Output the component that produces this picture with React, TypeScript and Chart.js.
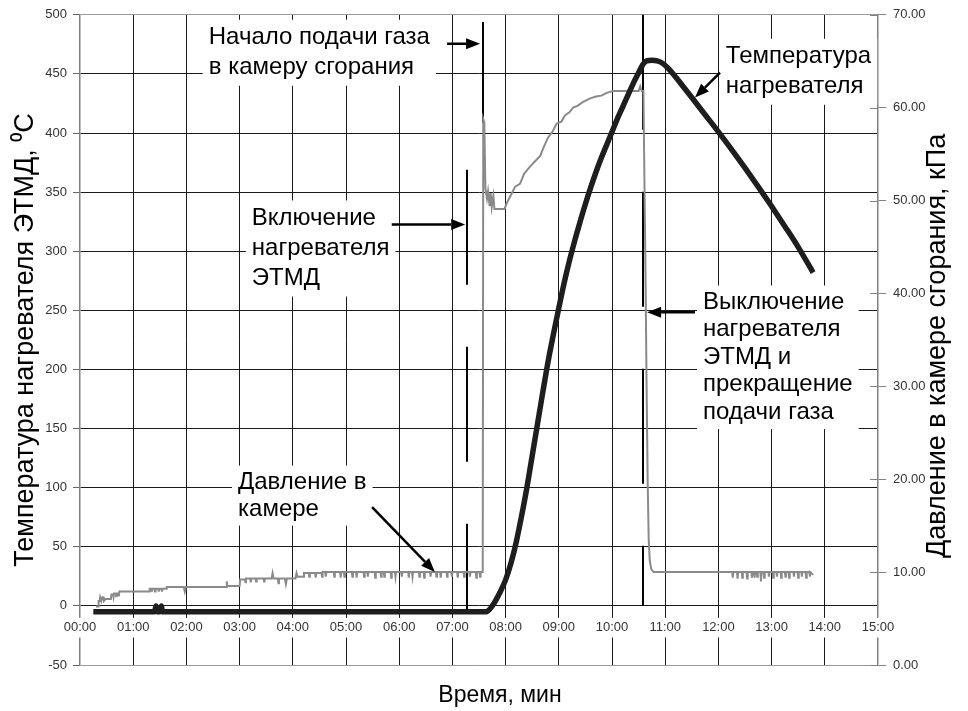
import React, { useEffect, useRef } from 'react';
import { Chart, registerables } from 'chart.js';

Chart.register(...registerables);

const FONT = "'Liberation Sans', Arial, Helvetica, sans-serif";

// ---- tick labels / titles ----
const xTickLabels = ['00:00', '01:00', '02:00', '03:00', '04:00', '05:00', '06:00', '07:00', '08:00', '09:00', '10:00', '11:00', '12:00', '13:00', '14:00', '15:00'];
const leftAxisTitle = 'Температура нагревателя ЭТМД, ⁰C';
const rightAxisTitle = 'Давление в камере сгорания, кПа';
const xAxisTitle = 'Время, мин';

// ---- temperature of the heater: [time, min; °C] (left axis) ----
const temperatureReadings: [number, number][] = [
  [0.25, -5], [1.40, -5], [1.43, 0], [1.45, -5], [1.50, -5], [1.53, 0], [1.55, -5], [7.63, -5],
  [7.75, 0], [7.9, 12], [8.0, 22], [8.1, 36], [8.2, 54], [8.3, 76], [8.4, 100], [8.5, 127], [8.6, 154],
  [8.7, 181], [8.8, 207], [8.9, 230], [9.0, 252], [9.1, 273], [9.2, 292], [9.3, 309], [9.4, 325],
  [9.5, 340], [9.6, 354], [9.7, 367], [9.8, 379], [9.9, 390], [10.0, 401], [10.1, 412], [10.2, 422],
  [10.3, 432], [10.4, 442], [10.5, 451], [10.58, 458], [10.65, 461], [10.75, 461.5], [10.85, 461],
  [10.95, 459], [11.05, 455], [11.15, 450], [11.3, 441.5], [11.5, 430], [11.75, 415.5], [12.0, 401],
  [12.25, 386], [12.5, 370.5], [12.75, 354.5], [13.0, 338], [13.25, 321], [13.5, 303.5], [13.78, 282],
];

// ---- pressure in the combustion chamber: [time, min; kPa] (right axis) ----
const pressureReadings: [number, number][] = [
  [0.30, 6.3], [0.34, 6.3], [0.35, 6.9], [0.37, 6.9], [0.38, 7.3], [0.40, 6.9], [0.42, 7.3], [0.44, 7.3], [0.45, 6.9], [0.48, 7.1],
  [0.58, 7.1], [0.59, 7.6], [0.62, 7.6], [0.63, 7.3], [0.64, 7.7], [0.67, 7.7], [0.68, 7.4], [0.69, 7.7], [0.72, 7.7], [0.73, 7.4], [0.74, 7.9],
  [1.30, 7.9], [1.31, 8.2], [1.34, 8.2], [1.35, 7.9], [1.36, 8.2], [1.40, 8.2], [1.41, 7.9], [1.42, 8.2], [1.47, 8.2], [1.48, 7.9],
  [1.49, 8.2], [1.53, 8.2], [1.54, 7.9], [1.55, 8.2], [1.62, 8.2], [1.63, 8.4], [1.95, 8.4], [1.97, 7.9], [1.99, 8.4],
  [2.75, 8.4], [2.76, 9.0], [2.77, 8.5], [3.00, 8.5], [3.01, 9.2], [3.10, 9.2], [3.11, 8.9], [3.12, 9.3], [3.20, 9.3], [3.21, 8.9],
  [3.22, 9.3], [3.30, 9.3], [3.31, 9.0], [3.32, 9.3], [3.45, 9.3], [3.46, 9.0], [3.47, 9.3], [3.60, 9.3], [3.62, 9.9], [3.64, 9.3],
  [3.72, 9.3], [3.73, 8.8], [3.74, 9.3], [3.85, 9.3], [3.87, 8.7], [3.89, 9.3], [4.05, 9.3], [4.07, 9.9], [4.09, 9.5], [4.20, 9.5], [4.21, 9.9],
  [4.30, 9.9], [4.31, 9.5], [4.32, 9.9], [4.42, 9.9], [4.43, 9.4], [4.44, 9.9], [4.54, 9.9], [4.55, 9.5], [4.56, 10.0], [4.61, 10.0],
  [4.62, 9.5], [4.63, 10.0], [4.77, 10.0], [4.78, 9.5], [4.79, 10.0], [4.89, 10.0], [4.90, 9.4], [4.91, 10.0], [4.96, 10.0], [4.97, 9.5],
  [4.98, 10.0], [5.11, 10.0], [5.12, 9.5], [5.13, 10.0], [5.19, 10.0], [5.20, 9.4], [5.21, 10.0], [5.33, 10.0], [5.34, 9.5], [5.35, 10.0],
  [5.40, 10.0], [5.41, 9.5], [5.42, 10.0], [5.54, 10.0], [5.55, 9.4], [5.56, 10.0], [5.65, 10.0], [5.66, 9.5], [5.67, 10.0], [5.71, 10.0],
  [5.72, 9.5], [5.73, 10.0], [5.84, 10.0], [5.85, 9.4], [5.86, 10.0], [5.92, 10.0], [5.93, 9.5], [5.94, 10.0], [6.04, 10.0], [6.05, 9.5],
  [6.06, 10.0], [6.17, 10.0], [6.18, 9.4], [6.19, 10.0], [6.24, 10.0], [6.25, 9.5], [6.26, 10.0], [6.37, 10.0], [6.38, 9.5], [6.39, 10.0],
  [6.46, 10.0], [6.47, 9.4], [6.48, 10.0], [6.58, 10.0], [6.59, 9.5], [6.60, 10.0], [6.69, 10.0], [6.70, 9.5], [6.71, 10.0], [6.77, 10.0],
  [6.78, 9.4], [6.79, 10.0], [6.89, 10.0], [6.90, 9.5], [6.91, 10.0], [6.98, 10.0], [6.99, 9.5], [7.00, 10.0], [7.09, 10.0], [7.10, 9.4],
  [7.11, 10.0], [7.21, 10.0], [7.22, 9.5], [7.23, 10.0], [7.32, 10.0], [7.33, 9.5], [7.34, 10.0], [7.44, 10.0], [7.45, 9.4], [7.46, 10.0],
  [7.51, 10.0], [7.52, 9.5], [7.53, 10.0], [7.57, 10.0],
  [7.58, 58.8], [7.60, 58.4], [7.62, 51.3], [7.65, 50.2], [7.67, 51.0], [7.70, 49.4], [7.72, 50.8], [7.74, 49.3], [7.77, 50.5],
  [7.79, 49.1], [7.98, 49.1], [8.02, 49.7], [8.10, 50.6], [8.18, 51.5], [8.27, 51.8], [8.35, 52.9], [8.45, 53.6], [8.55, 54.2],
  [8.65, 54.8], [8.72, 55.8], [8.80, 56.8], [8.88, 57.4], [8.96, 58.3], [9.05, 58.5], [9.12, 59.2], [9.20, 59.5], [9.27, 60.0],
  [9.35, 60.2], [9.45, 60.6], [9.59, 61.0], [9.70, 61.2], [9.80, 61.3], [9.90, 61.6], [10.02, 61.8], [10.50, 61.8], [10.53, 62.3],
  [10.56, 61.8], [10.59, 61.8], [10.61, 52.0], [10.63, 42.0], [10.65, 30.0], [10.67, 20.0], [10.69, 13.5], [10.71, 11.2],
  [10.74, 10.3], [10.78, 10.0],
  [12.26, 10.0], [12.27, 9.4], [12.28, 10.0], [12.35, 10.0], [12.36, 9.3], [12.37, 10.0], [12.44, 10.0], [12.45, 9.4], [12.46, 10.0],
  [12.53, 10.0], [12.54, 9.3], [12.55, 10.0], [12.62, 10.0], [12.63, 9.4], [12.64, 10.0], [12.67, 10.0], [12.68, 9.4], [12.69, 10.0],
  [12.72, 10.0], [12.73, 9.5], [12.74, 10.0], [12.79, 10.0], [12.80, 9.0], [12.81, 10.0], [12.85, 10.0], [12.86, 9.4], [12.87, 10.0],
  [12.94, 10.0], [12.95, 9.5], [12.96, 10.0], [13.02, 10.0], [13.03, 9.4], [13.04, 10.0], [13.09, 10.0], [13.10, 9.5], [13.11, 10.0],
  [13.17, 10.0], [13.18, 9.4], [13.19, 10.0], [13.25, 10.0], [13.26, 9.5], [13.27, 10.0], [13.32, 10.0], [13.33, 9.4], [13.34, 10.0],
  [13.41, 10.0], [13.42, 9.5], [13.43, 10.0], [13.49, 10.0], [13.50, 9.4], [13.51, 10.0], [13.56, 10.0], [13.57, 9.5], [13.58, 10.0],
  [13.64, 10.0], [13.65, 9.4], [13.66, 10.0], [13.71, 10.0], [13.72, 9.5], [13.73, 10.0], [13.78, 9.7],
];

// ---- event markers (time, top and bottom in left-axis units) ----
const markerTimes = [7.27, 7.58, 10.59];
const markerTops = [369, 494, 500];
const markerBottoms = [-5, 409, 0];
const markerDashed = [true, false, true];

// ---- annotation texts (left edge time, first line centre in left-axis units) ----
const noteLines = [
  ['Начало подачи газа', 'в камеру сгорания'],
  ['Включение', 'нагревателя', 'ЭТМД'],
  ['Давление в', 'камере'],
  ['Температура', 'нагревателя'],
  ['Выключение', 'нагревателя', 'ЭТМД и', 'прекращение', 'подачи газа'],
];
const noteTimes = [2.42, 3.23, 2.97, 12.14, 11.71];
const noteValues = [480.6, 327.7, 104.7, 464.5, 256.8];
const noteGaps = [30, 30, 27, 30, 27.5];

// ---- arrows: [time, left-axis value] from -> to ----
const arrowFrom = [[6.9, 475.5], [5.86, 322.6], [5.49, 83.6], [12.03, 451], [11.56, 248.3]];
const arrowTo = [[7.52, 475.5], [7.24, 322.6], [6.67, 28.7], [11.56, 430], [10.66, 248.3]];

const NOTE_SIZE = 24;
const VTITLE_SIZE = 27;

const overlayPlugin = {
  id: 'overlay',
  beforeDatasetsDraw(chart: any) {
    const { ctx, scales } = chart;
    const x = scales.x;
    const y = scales.y;
    ctx.save();
    ctx.strokeStyle = '#000';
    ctx.lineWidth = 2;
    markerTimes.forEach((t, i) => {
      const px = Math.round(x.getPixelForValue(t));
      ctx.setLineDash(markerDashed[i] ? [115, 62] : []);
      ctx.beginPath();
      ctx.moveTo(px, y.getPixelForValue(markerTops[i]));
      ctx.lineTo(px, y.getPixelForValue(markerBottoms[i]));
      ctx.stroke();
    });
    ctx.setLineDash([]);
    ctx.font = `${NOTE_SIZE}px ${FONT}`;
    ctx.textBaseline = 'middle';
    ctx.textAlign = 'left';
    noteLines.forEach((lines, i) => {
      const left = x.getPixelForValue(noteTimes[i]);
      const top = y.getPixelForValue(noteValues[i]);
      const gap = noteGaps[i];
      const w = Math.max(...lines.map((l) => ctx.measureText(l).width));
      ctx.fillStyle = '#fff';
      ctx.fillRect(left - 6, top - gap / 2 - 3, w + 12, gap * lines.length + 6);
      ctx.fillStyle = '#000';
      lines.forEach((l, j) => ctx.fillText(l, left, top + j * gap));
    });
    ctx.restore();
  },
  afterDatasetsDraw(chart: any) {
    const { ctx, scales } = chart;
    const x = scales.x;
    const y = scales.y;
    ctx.save();
    ctx.strokeStyle = '#000';
    ctx.fillStyle = '#000';
    ctx.lineWidth = 2.5;
    arrowFrom.forEach((f, i) => {
      const x1 = x.getPixelForValue(f[0]);
      const y1 = y.getPixelForValue(f[1]);
      const x2 = x.getPixelForValue(arrowTo[i][0]);
      const y2 = y.getPixelForValue(arrowTo[i][1]);
      const ang = Math.atan2(y2 - y1, x2 - x1);
      const head = 14;
      const hw = 5.5;
      const bx = x2 - head * Math.cos(ang);
      const by = y2 - head * Math.sin(ang);
      ctx.beginPath();
      ctx.moveTo(x1, y1);
      ctx.lineTo(bx, by);
      ctx.stroke();
      ctx.beginPath();
      ctx.moveTo(x2, y2);
      ctx.lineTo(bx + hw * Math.sin(ang), by - hw * Math.cos(ang));
      ctx.lineTo(bx - hw * Math.sin(ang), by + hw * Math.cos(ang));
      ctx.closePath();
      ctx.fill();
    });
    ctx.restore();
  },
  afterDraw(chart: any) {
    const { ctx, chartArea, scales } = chart;
    const y2 = scales.y2;
    ctx.save();
    ctx.strokeStyle = '#808080';
    ctx.lineWidth = 1;
    y2.ticks.forEach((t: any) => {
      const py = Math.round(y2.getPixelForValue(t.value)) + 0.5;
      ctx.beginPath();
      ctx.moveTo(chartArea.right - 8, py);
      ctx.lineTo(chartArea.right, py);
      ctx.stroke();
    });
    ctx.fillStyle = '#000';
    ctx.textAlign = 'center';
    ctx.textBaseline = 'middle';
    ctx.font = `23px ${FONT}`;
    ctx.fillText(xAxisTitle, (chartArea.left + chartArea.right) / 2 + 21, chartArea.bottom + 31);
    ctx.font = `${VTITLE_SIZE}px ${FONT}`;
    ctx.translate(chartArea.right + 60, (chartArea.top + chartArea.bottom) / 2 + 6);
    ctx.rotate(-Math.PI / 2);
    ctx.fillText(rightAxisTitle, 0, 0);
    ctx.restore();
  },
};

export default function App() {
  const ref = useRef<HTMLCanvasElement | null>(null);
  useEffect(() => {
    if (!ref.current) return;
    const chart = new Chart(ref.current, {
      type: 'line',
      data: {
        datasets: [
          {
            label: 'Давление',
            data: pressureReadings.map(([t, p]) => ({ x: t, y: p })),
            yAxisID: 'y2',
            borderColor: '#8a8a8a',
            borderWidth: 2,
            pointRadius: 0,
            tension: 0,
            order: 2,
          },
          {
            label: 'Температура',
            data: temperatureReadings.map(([t, v]) => ({ x: t, y: v })),
            yAxisID: 'y',
            borderColor: '#1e1e1e',
            borderWidth: 5.5,
            pointRadius: 0,
            cubicInterpolationMode: 'monotone',
            order: 1,
          },
        ],
      },
      options: {
        responsive: false,
        animation: false,
        devicePixelRatio: 1,
        layout: { padding: { top: 14, bottom: 46, left: 0, right: 0 } },
        plugins: { legend: { display: false }, tooltip: { enabled: false }, title: { display: false } },
        scales: {
          x: {
            type: 'linear',
            min: 0,
            max: 15,
            position: { y: 0 },
            ticks: {
              stepSize: 1,
              autoSkip: false,
              maxRotation: 0,
              color: '#333',
              font: { family: FONT, size: 13 },
              padding: 6,
              showLabelBackdrop: true,
              backdropColor: '#fff',
              backdropPadding: { top: 2, bottom: 2, left: 1, right: 1 },
              callback: (_v: any, i: number) => xTickLabels[i],
            },
            grid: {
              color: (c: any) => (c.tick && (c.tick.value === 0 || c.tick.value === 15) ? 'rgba(0,0,0,0)' : '#1a1a1a'),
              lineWidth: 1,
              tickLength: 8,
            },
            border: { display: false },
          },
          y: {
            type: 'linear',
            position: 'left',
            min: -50,
            max: 500,
            afterFit: (s: any) => { s.width = 80; },
            ticks: { stepSize: 50, color: '#333', font: { family: FONT, size: 13 }, padding: 6 },
            grid: {
              color: (c: any) => (c.tick && (c.tick.value === 500 || c.tick.value === -50) ? '#9a9a9a' : '#1a1a1a'),
              lineWidth: 1,
              tickLength: 7,
              tickColor: '#666',
            },
            border: { display: true, color: '#808080', width: 1.5, z: -1 },
            title: { display: true, text: leftAxisTitle, color: '#000', font: { family: FONT, size: VTITLE_SIZE }, padding: { top: 9, bottom: 0 } },
          },
          y2: {
            type: 'linear',
            position: 'right',
            min: 0,
            max: 70,
            afterFit: (s: any) => { s.width = 90; },
            ticks: {
              stepSize: 10,
              color: '#333',
              font: { family: FONT, size: 13 },
              padding: 7,
              callback: (v: any) => Number(v).toFixed(2),
            },
            grid: { drawOnChartArea: false, tickLength: 8, color: '#808080', lineWidth: 1 },
            border: { display: true, color: '#808080', width: 1.5, z: -1 },
          },
        },
      } as any,
      plugins: [overlayPlugin],
    });
    return () => chart.destroy();
  }, []);
  return (
    <div style={{ position: 'fixed', left: 0, top: 0, width: 968, height: 711, background: '#fff' }}>
      <canvas ref={ref} width={968} height={711} />
    </div>
  );
}
